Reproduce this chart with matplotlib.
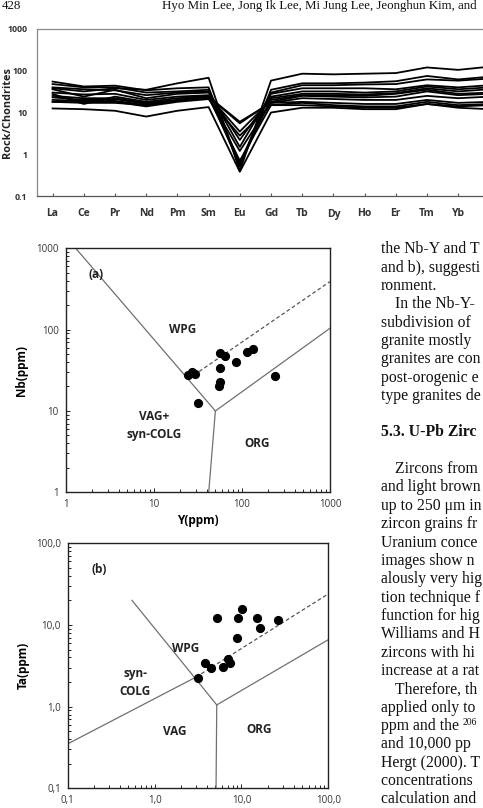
import matplotlib
matplotlib.use("Agg")
from matplotlib import pyplot as plt
from matplotlib.ticker import LogLocator, FixedLocator, FixedFormatter, NullFormatter

plt.rcParams['font.family'] = ['Open Sans', 'DejaVu Sans']

# ---- REE spider diagram (chondrite normalised) ----
ree = ['La', 'Ce', 'Pr', 'Nd', 'Pm', 'Sm', 'Eu', 'Gd', 'Tb', 'Dy', 'Ho', 'Er', 'Tm', 'Yb', 'Lu']
ree_samples = [
    [38, 32, 38, 35, 50, 68, 0.40, 58, 85, 82, 85, 88, 120, 105, 125],
    [55, 42, 44, 34, 38, 40, 0.50, 35, 50, 50, 52, 56, 75, 62, 72],
    [48, 40, 40, 30, 32, 35, 0.60, 30, 45, 45, 47, 48, 62, 58, 65],
    [40, 36, 34, 26, 30, 32, 1.5, 28, 38, 38, 38, 36, 45, 40, 45],
    [36, 24, 35, 22, 28, 30, 2.2, 24, 32, 32, 30, 32, 42, 36, 40],
    [30, 27, 28, 20, 24, 26, 0.55, 22, 28, 28, 27, 29, 38, 32, 36],
    [28, 16, 24, 18, 22, 25, 3.5, 20, 26, 26, 25, 28, 35, 28, 30],
    [25, 22, 22, 17, 20, 24, 5.5, 18, 25, 24, 23, 24, 32, 26, 28],
    [23, 20, 21, 16, 19, 22, 1.2, 17, 22, 21, 20, 20, 25, 22, 24],
    [20, 19, 19, 15, 20, 24, 6.0, 17, 18, 17, 16, 16, 20, 17, 18],
    [18, 18, 18, 14, 18, 21, 2.8, 15, 17, 15, 14, 14, 18, 15, 16],
    [18, 17, 17, 15, 19, 23, 0.70, 15, 15, 14, 13, 13, 16, 14, 15],
    [12.5, 12, 11, 8, 11, 13.5, 0.38, 10, 13, 13, 12, 12, 16, 13, 12],
]
ree_ticks = [0.1, 1, 10, 100, 1000]
ree_ticklabels = ['0.1', '1', '10', '100', '1000']

# ---- (a) Nb - Y discrimination ----
y_a = [24.3, 29.4, 27.0, 31.5, 56.5, 64.4, 56.5, 56.5, 55.0, 85.8, 113, 135, 238]
nb_a = [27.7, 28.5, 30.0, 12.4, 52.0, 47.9, 33.5, 23.0, 20.0, 40.4, 52.6, 57.3, 27.2]
a_lines = [([1.3, 50], [1000, 10]), ([50, 42], [10, 1]), ([50, 1000], [10, 104])]
a_dashed = ([25, 1000], [25, 390])

# ---- (b) Ta - Yb discrimination ----
yb_b = [3.13, 3.80, 4.42, 6.08, 6.94, 7.38, 5.19, 8.95, 9.03, 10.2, 15.0, 16.3, 26.1]
ta_b = [2.22, 3.46, 2.94, 3.03, 3.87, 3.40, 12.1, 6.87, 12.1, 15.7, 12.1, 9.1, 11.5]
b_lines = [([0.55, 5.2], [20, 1.05]), ([5.2, 5.1], [1.05, 0.1]), ([5.2, 100], [1.05, 6.6]),
           ([0.1, 3.0], [0.35, 2.3])]
b_dashed = ([3.0, 100], [2.3, 24])
log_ticks = [0.1, 1, 10, 100]
log_ticklabels = ['0,1', '1,0', '10,0', '100,0']

# visible part of the page text in the right column
body = [
    (249.3, 0, 'the Nb-Y and T'),
    (267.7, 0, 'and b), suggesti'),
    (286.0, 0, 'ronment.'),
    (304.3, 1, 'In the Nb-Y-3'),
    (322.7, 0, 'subdivision of A'),
    (341.0, 0, 'granite mostly be'),
    (359.3, 0, 'granites are con'),
    (377.7, 0, 'post-orogenic ex'),
    (396.0, 0, 'type granites de'),
    (469.0, 1, 'Zircons from'),
    (487.3, 0, 'and light brown'),
    (505.7, 0, 'up to 250 μm in'),
    (524.3, 0, 'zircon grains fro'),
    (542.7, 0, 'Uranium concen'),
    (561.0, 0, 'images show no'),
    (579.3, 0, 'alously very high'),
    (597.7, 0, 'tion technique fo'),
    (616.0, 0, 'function for high'),
    (634.3, 0, 'Williams and He'),
    (652.7, 0, 'zircons with high'),
    (671.0, 0, 'increase at a rate'),
    (689.3, 1, 'Therefore, the'),
    (707.7, 0, 'applied only to'),
    (744.3, 0, 'and 10,000 ppm'),
    (762.7, 0, 'Hergt (2000). T'),
    (781.0, 0, 'concentrations ('),
    (799.3, 0, 'calculation and t'),
]
iso_line = (726.0, 'ppm and the ', '206', 'P')
heading = '5.3. U-Pb Zirco'
header = 'Hyo Min Lee, Jong Ik Lee, Mi Jung Lee, Jeonghun Kim, and'

W, H = 483, 808
fig = plt.figure(figsize=(W / 100, H / 100), dpi=100)


def box(l, t, r, b):
    return [l / W, 1 - b / H, (r - l) / W, (b - t) / H]


# ---------- top chart ----------
ax = fig.add_axes(box(37, 29, 505, 196))
for s in ree_samples:
    ax.plot(range(len(ree)), s, color='black', lw=1.3)
ax.set_yscale('log')
ax.set_ylim(0.1, 1000)
ax.set_xlim(-0.5, len(ree) - 0.5)
ax.yaxis.set_major_locator(FixedLocator(ree_ticks))
ax.yaxis.set_major_formatter(FixedFormatter(ree_ticklabels))
ax.yaxis.set_minor_locator(FixedLocator([]))
# last category (Lu) lies beyond the page edge, only its line is seen
ax.set_xticks(range(len(ree) - 1))
ax.set_xticklabels(ree[:-1])
ax.tick_params(axis='y', length=0, pad=7, labelsize=6.3, labelcolor='#333333')
ax.tick_params(axis='x', direction='in', length=2.5, pad=9, labelsize=7.5, labelcolor='#333333',
               color='#555555')
for lab in ax.get_xticklabels() + ax.get_yticklabels():
    lab.set_fontweight('bold')
for sp in ax.spines.values():
    sp.set_color('#888888')
    sp.set_linewidth(0.9)
ax.spines['bottom'].set_color('#555555')
ax.set_ylabel('Rock/Chondrites', fontsize=7.8, fontweight='bold', color='#222222')
ax.yaxis.set_label_coords((13 - 37) / 468, 0.5)


def panel(ax, xs, ys, lines, dashed, xlim, ylim):
    for lx, ly in lines:
        ax.plot(lx, ly, color='#707070', lw=0.9)
    ax.plot(dashed[0], dashed[1], color='#555555', lw=0.9, ls=(0, (3, 2)))
    ax.plot(xs, ys, 'o', color='black', ms=5.6)
    ax.set_xscale('log')
    ax.set_yscale('log')
    ax.set_xlim(*xlim)
    ax.set_ylim(*ylim)
    ax.tick_params(which='both', direction='in', top=False, right=False, labelsize=7,
                   labelcolor='#333333', width=0.6, pad=5)
    ax.tick_params(which='major', length=3)
    ax.tick_params(which='minor', length=2)
    ax.yaxis.set_minor_locator(LogLocator(subs=range(2, 10)))
    ax.xaxis.set_minor_locator(LogLocator(subs=range(2, 10)))
    ax.xaxis.set_minor_formatter(NullFormatter())
    ax.yaxis.set_minor_formatter(NullFormatter())
    for sp in ax.spines.values():
        sp.set_linewidth(1.0)
        sp.set_color('#222222')


# ---------- (a) ----------
axa = fig.add_axes(box(65.7, 248.3, 330, 492.3))
panel(axa, y_a, nb_a, a_lines, a_dashed, (1, 1000), (1, 1000))
axa.set_xticks([1, 10, 100, 1000])
axa.set_xticklabels(['1', '10', '100', '1000'])
axa.set_yticks([1, 10, 100, 1000])
axa.set_yticklabels(['1', '10', '100', '1000'])
axa.set_xlabel('Y(ppm)', fontsize=8.5, fontweight='bold', labelpad=3)
axa.set_ylabel('Nb(ppm)', fontsize=8.5, fontweight='bold', labelpad=6)
lab = dict(fontsize=8.5, fontweight='bold', ha='center', va='center', color='#222222')
axa.text(2.2, 480, '(a)', **lab)
axa.text(21, 100, 'WPG', **lab)
axa.text(10, 10 ** 0.82, 'VAG+\nsyn-COLG', linespacing=1.5, **lab)
axa.text(150, 10 ** 0.6, 'ORG', **lab)

# ---------- (b) ----------
axb = fig.add_axes(box(67.7, 543.3, 328.3, 788.3))
panel(axb, yb_b, ta_b, b_lines, b_dashed, (0.1, 100), (0.1, 100))
axb.set_xticks(log_ticks)
axb.set_xticklabels(log_ticklabels)
axb.set_yticks(log_ticks)
axb.set_yticklabels(log_ticklabels)
axb.set_ylabel('Ta(ppm)', fontsize=8.5, fontweight='bold', labelpad=4)
axb.text(0.23, 48, '(b)', **lab)
axb.text(2.3, 5.2, 'WPG', **lab)
axb.text(0.6, 1.95, 'syn-\nCOLG', linespacing=1.5, **lab)
axb.text(1.7, 0.5, 'VAG', **lab)
axb.text(16, 0.53, 'ORG', **lab)

# ---------- page text ----------
serif = dict(family=['Liberation Serif', 'DejaVu Serif'], fontsize=11.3, color='#111111',
             va='center', ha='left')
fig.canvas.draw()
rend = fig.canvas.get_renderer()
RIGHT = 482


def fit_text(x, y, txt, **kw):
    # the column runs off the page: keep only what fits before the edge
    t = fig.text(x / W, 1 - y / H, txt, **kw)
    while t.get_window_extent(rend).x1 > RIGHT and len(t.get_text()) > 1:
        t.set_text(t.get_text()[:-1])
    return t


fig.text(2 / W, 1 - 6 / H, '428', **dict(serif, fontsize=9.3))
fit_text(162, 6, header, **dict(serif, fontsize=9.3))
for yy, ind, txt in body:
    fit_text(381 + 14 * ind, yy, txt, **serif)
fit_text(381, 432.3, heading, fontweight='bold', **serif)

# line with the superscript mass number, laid out piece by piece
yy, pre, sup, post = iso_line
t1 = fig.text(381 / W, 1 - yy / H, pre, **serif)
x1 = t1.get_window_extent(rend).x1
t2 = fig.text(x1 / W, 1 - (yy - 3.5) / H, sup, **dict(serif, fontsize=7))
x2 = t2.get_window_extent(rend).x1
if x2 + 6 < RIGHT:
    fit_text(x2, yy, post, **serif)

plt.savefig('out.png', dpi=100)
